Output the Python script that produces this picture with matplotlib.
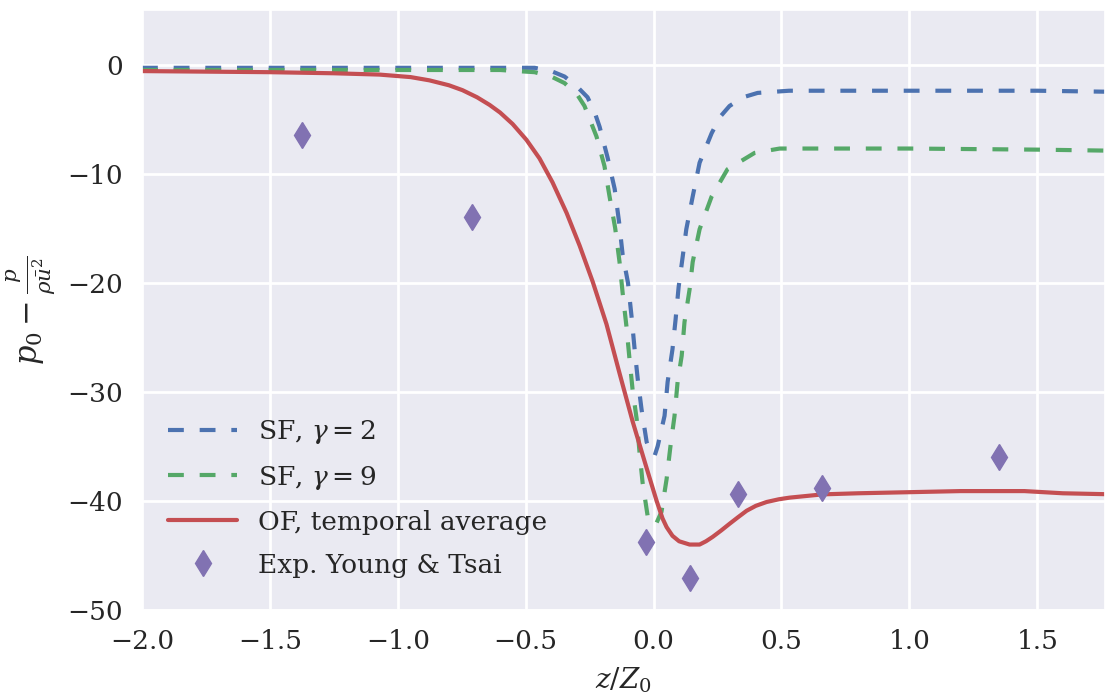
import numpy as np
import matplotlib
matplotlib.use('Agg')
import matplotlib.pyplot as plt
import seaborn as sns

# pressure deficit profiles across the interface
z_sf2 = [-2.0, -1.5, -1.0, -0.6, -0.465, -0.40, -0.348, -0.30, -0.258, -0.23, -0.211,
         -0.18, -0.152, -0.135, -0.121, -0.10, -0.086, -0.074, -0.062, -0.047, -0.027,
         -0.008, 0.005, 0.016, 0.043, 0.055, 0.074, 0.086, 0.098, 0.114, 0.128, 0.153,
         0.18, 0.227, 0.26, 0.297, 0.35, 0.407, 0.53, 1.0, 1.5, 1.8]
p_sf2 = [-0.3, -0.3, -0.3, -0.3, -0.3, -0.6, -1.1, -2.0, -3.0, -4.4, -5.7,
         -8.5, -11.4, -14.4, -17.4, -20.0, -23.1, -26.1, -28.8, -31.6, -34.6,
         -35.8, -35.8, -35.0, -32.2, -29.1, -26.1, -23.4, -20.4, -17.6, -15.1, -12.1,
         -9.0, -6.3, -4.8, -3.8, -3.0, -2.6, -2.4, -2.4, -2.4, -2.5]

z_sf9 = [-2.0, -1.0, -0.6, -0.465, -0.40, -0.348, -0.30, -0.27, -0.223, -0.192,
         -0.172, -0.15, -0.133, -0.121, -0.106, -0.094, -0.082, -0.066, -0.055, -0.043,
         -0.023, -0.005, 0.012, 0.031, 0.051, 0.066, 0.082, 0.094, 0.11, 0.121, 0.141,
         0.153, 0.18, 0.227, 0.289, 0.395, 0.493, 1.0, 1.5, 1.8]
p_sf9 = [-0.5, -0.5, -0.5, -0.7, -1.1, -1.7, -2.7, -3.8, -6.6, -9.3,
         -12.1, -15.0, -18.1, -20.9, -24.0, -27.0, -29.8, -32.5, -35.5, -38.3,
         -41.4, -42.2, -42.0, -41.0, -38.0, -35.0, -32.2, -29.1, -26.7, -23.6, -20.6,
         -18.1, -15.1, -12.1, -9.6, -8.1, -7.7, -7.7, -7.8, -7.9]

z_of = [-2.0, -1.5, -1.25, -1.072, -0.95, -0.876, -0.80, -0.747, -0.69, -0.641, -0.60,
        -0.551, -0.497, -0.446, -0.395, -0.340, -0.289, -0.238, -0.184, -0.133, -0.082,
        -0.027, 0.012, 0.035, 0.051, 0.074, 0.10, 0.141, 0.18, 0.205, 0.231, 0.265,
        0.297, 0.33, 0.364, 0.40, 0.442, 0.49, 0.532, 0.661, 0.8, 1.0, 1.2, 1.45, 1.6, 1.8]
p_of = [-0.6, -0.7, -0.8, -0.92, -1.15, -1.45, -1.9, -2.35, -3.0, -3.7, -4.4,
        -5.45, -6.9, -8.6, -10.8, -13.6, -16.6, -19.9, -23.8, -28.3, -32.7,
        -37.0, -40.0, -41.6, -42.4, -43.2, -43.7, -44.0, -44.0, -43.7, -43.3, -42.7,
        -42.1, -41.5, -40.9, -40.45, -40.1, -39.85, -39.7, -39.4, -39.3, -39.2, -39.1, -39.1, -39.3, -39.4]

# experimental points
z_exp = [-1.373, -0.708, -0.031, 0.141, 0.332, 0.657, 1.349]
p_exp = [-6.5, -14.0, -43.8, -47.1, -39.4, -38.8, -36.0]

sns.set_theme(style='darkgrid')
plt.rcParams['font.family'] = ['DejaVu Serif']
plt.rcParams['mathtext.fontset'] = 'dejavuserif'

fig = plt.figure(figsize=(11.05, 6.98), dpi=100)
ax = fig.add_axes([142 / 1105, 88 / 698, 1 - 142 / 1105, 600 / 698])

ax.plot(z_sf2, p_sf2, color='#4C72B0', lw=3, ls=(0, (3.8, 3.8)), label=r'SF, $\gamma = 2$')
ax.plot(z_sf9, p_sf9, color='#55A868', lw=3, ls=(0, (3.8, 3.8)), label=r'SF, $\gamma = 9$')
ax.plot(z_of, p_of, color='#C44E52', lw=3, label='OF, temporal average')
ax.plot(z_exp, p_exp, 'd', color='#8172B2', ms=13, ls='none', label='Exp. Young & Tsai')

ax.set_xlim(-2.0, 1.765)
ax.set_ylim(-50, 5)
ax.set_yticks([0, -10, -20, -30, -40, -50])
ax.tick_params(labelsize=19, pad=8)
ax.set_xlabel(r'$z/Z_0$', fontsize=20, labelpad=8)
ax.set_ylabel(r'$p_0 - \frac{p}{\rho\bar{u}^2}$', fontsize=22, labelpad=6)
ax.grid(True, color='white', lw=2)

ax.legend(loc='lower left', bbox_to_anchor=(0, 0.01), fontsize=19, frameon=False,
          handlelength=2.6, handletextpad=0.8, labelspacing=0.68, borderaxespad=0.6)

fig.savefig('out.png', dpi=100)
